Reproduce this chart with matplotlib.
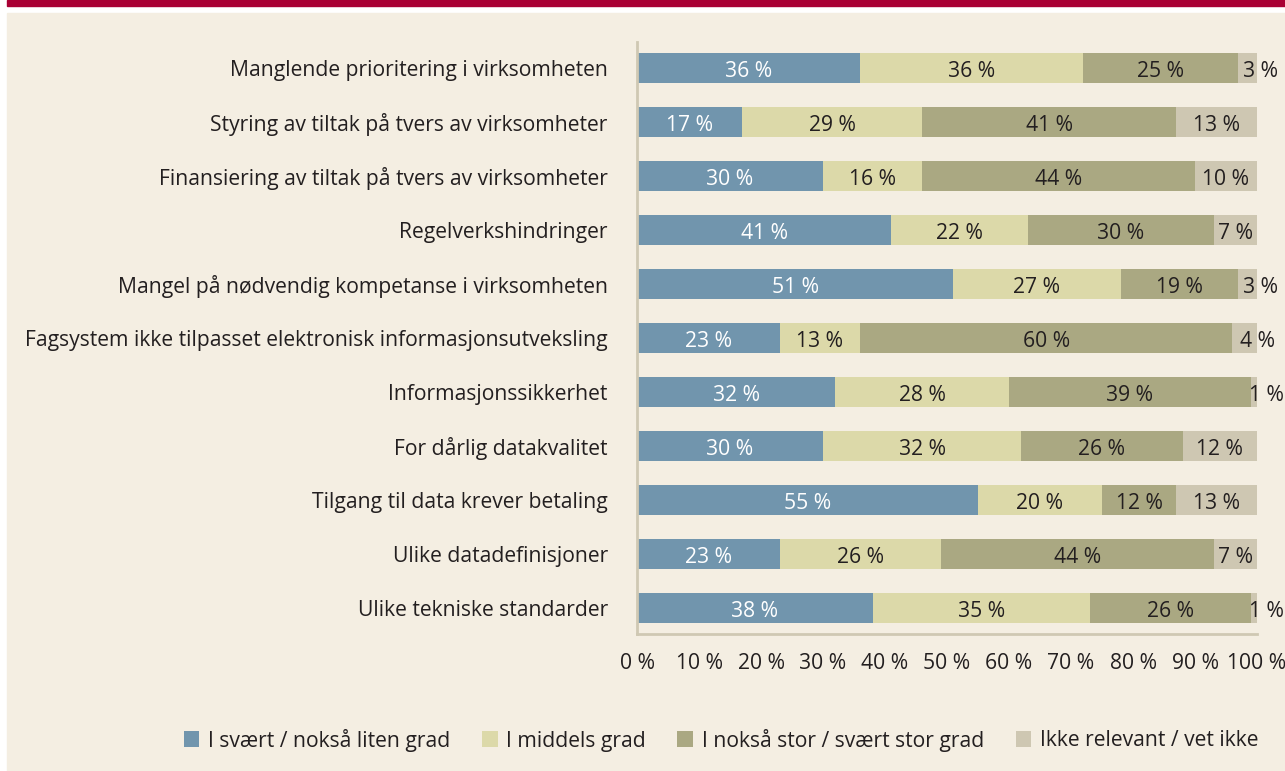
import numpy as np
import matplotlib
matplotlib.use("Agg")
import matplotlib.pyplot as plt
from matplotlib.patches import Rectangle

# ---------- data ----------
categories = [
    "Manglende prioritering i virksomheten",
    "Styring av tiltak på tvers av virksomheter",
    "Finansiering av tiltak på tvers av virksomheter",
    "Regelverkshindringer",
    "Mangel på nødvendig kompetanse i virksomheten",
    "Fagsystem ikke tilpasset elektronisk informasjonsutveksling",
    "Informasjonssikkerhet",
    "For dårlig datakvalitet",
    "Tilgang til data krever betaling",
    "Ulike datadefinisjoner",
    "Ulike tekniske standarder",
]
liten_grad = [36, 17, 30, 41, 51, 23, 32, 30, 55, 23, 38]
middels_grad = [36, 29, 16, 22, 27, 13, 28, 32, 20, 26, 35]
stor_grad = [25, 41, 44, 30, 19, 60, 39, 26, 12, 44, 26]
ikke_relevant = [3, 13, 10, 7, 3, 4, 1, 12, 13, 7, 1]

series_labels = [
    "I svært / nokså liten grad",
    "I middels grad",
    "I nokså stor / svært stor grad",
    "Ikke relevant / vet ikke",
]
x_ticks = [0, 10, 20, 30, 40, 50, 60, 70, 80, 90, 100]

# ---------- style ----------
plt.rcParams["font.family"] = ["Open Sans", "DejaVu Sans"]
TEXT = "#231f20"
BG = "#f4eee2"
colors = ["#7195ad", "#dcd9a9", "#aaa882", "#cec7b2"]
text_colors = ["white", TEXT, TEXT, TEXT]
FS = 15.2

fig = plt.figure(figsize=(12.85, 7.71), dpi=100)
fig.patch.set_facecolor("white")

# red band + beige panel (behind everything)
fig.patches.append(Rectangle((7 / 1285, 1 - 6 / 771), 1, 6 / 771,
                             transform=fig.transFigure, color="#a90034", zorder=-10))
fig.patches.append(Rectangle((7 / 1285, 0), 1, 1 - 13 / 771,
                             transform=fig.transFigure, color=BG, zorder=-10))

ax = fig.add_axes([637 / 1285, 1 - 634 / 771, 620 / 1285, 592 / 771])
ax.set_facecolor("none")

y = np.arange(len(categories))
data = [liten_grad, middels_grad, stor_grad, ikke_relevant]
left = np.zeros(len(categories))
for vals, col, tcol, lab in zip(data, colors, text_colors, series_labels):
    vals = np.array(vals, dtype=float)
    bars = ax.barh(y, vals, left=left, height=0.565, color=col,
                   edgecolor="none", label=lab)
    for bar, v in zip(bars, vals):
        cx = bar.get_x() + bar.get_width() / 2
        cy = bar.get_y() + bar.get_height() / 2
        dx = 9 if v < 5 else 0
        ax.annotate(f"{int(v)} %", (cx, cy), xytext=(dx, -2.5),
                    textcoords="offset points", ha="center", va="center",
                    fontsize=FS, color=tcol, annotation_clip=False)
    left += vals

ax.set_xlim(0, 100)
ax.set_ylim(len(categories) - 1 + 0.48, -0.48)

ax.set_yticks(y)
ax.set_yticklabels(categories, fontsize=FS, color=TEXT, va="center_baseline")
ax.set_xticks(x_ticks)
ax.set_xticklabels([f"{t} %" for t in x_ticks], fontsize=FS, color=TEXT)
ax.tick_params(axis="y", length=0, pad=21)
ax.tick_params(axis="x", length=0, pad=14)

for s in ["top", "right"]:
    ax.spines[s].set_visible(False)
for s in ["left", "bottom"]:
    ax.spines[s].set_color("#cfc8b3")
    ax.spines[s].set_linewidth(2)

leg = fig.legend(loc="center", bbox_to_anchor=(721 / 1285, 1 - 740 / 771),
                 ncol=4, frameon=False, fontsize=FS, handlelength=0.75,
                 handleheight=0.75, handletextpad=0.4, columnspacing=1.5)
for t in leg.get_texts():
    t.set_color(TEXT)

fig.savefig("out.png", dpi=100, facecolor=fig.get_facecolor())
plt.close(fig)
